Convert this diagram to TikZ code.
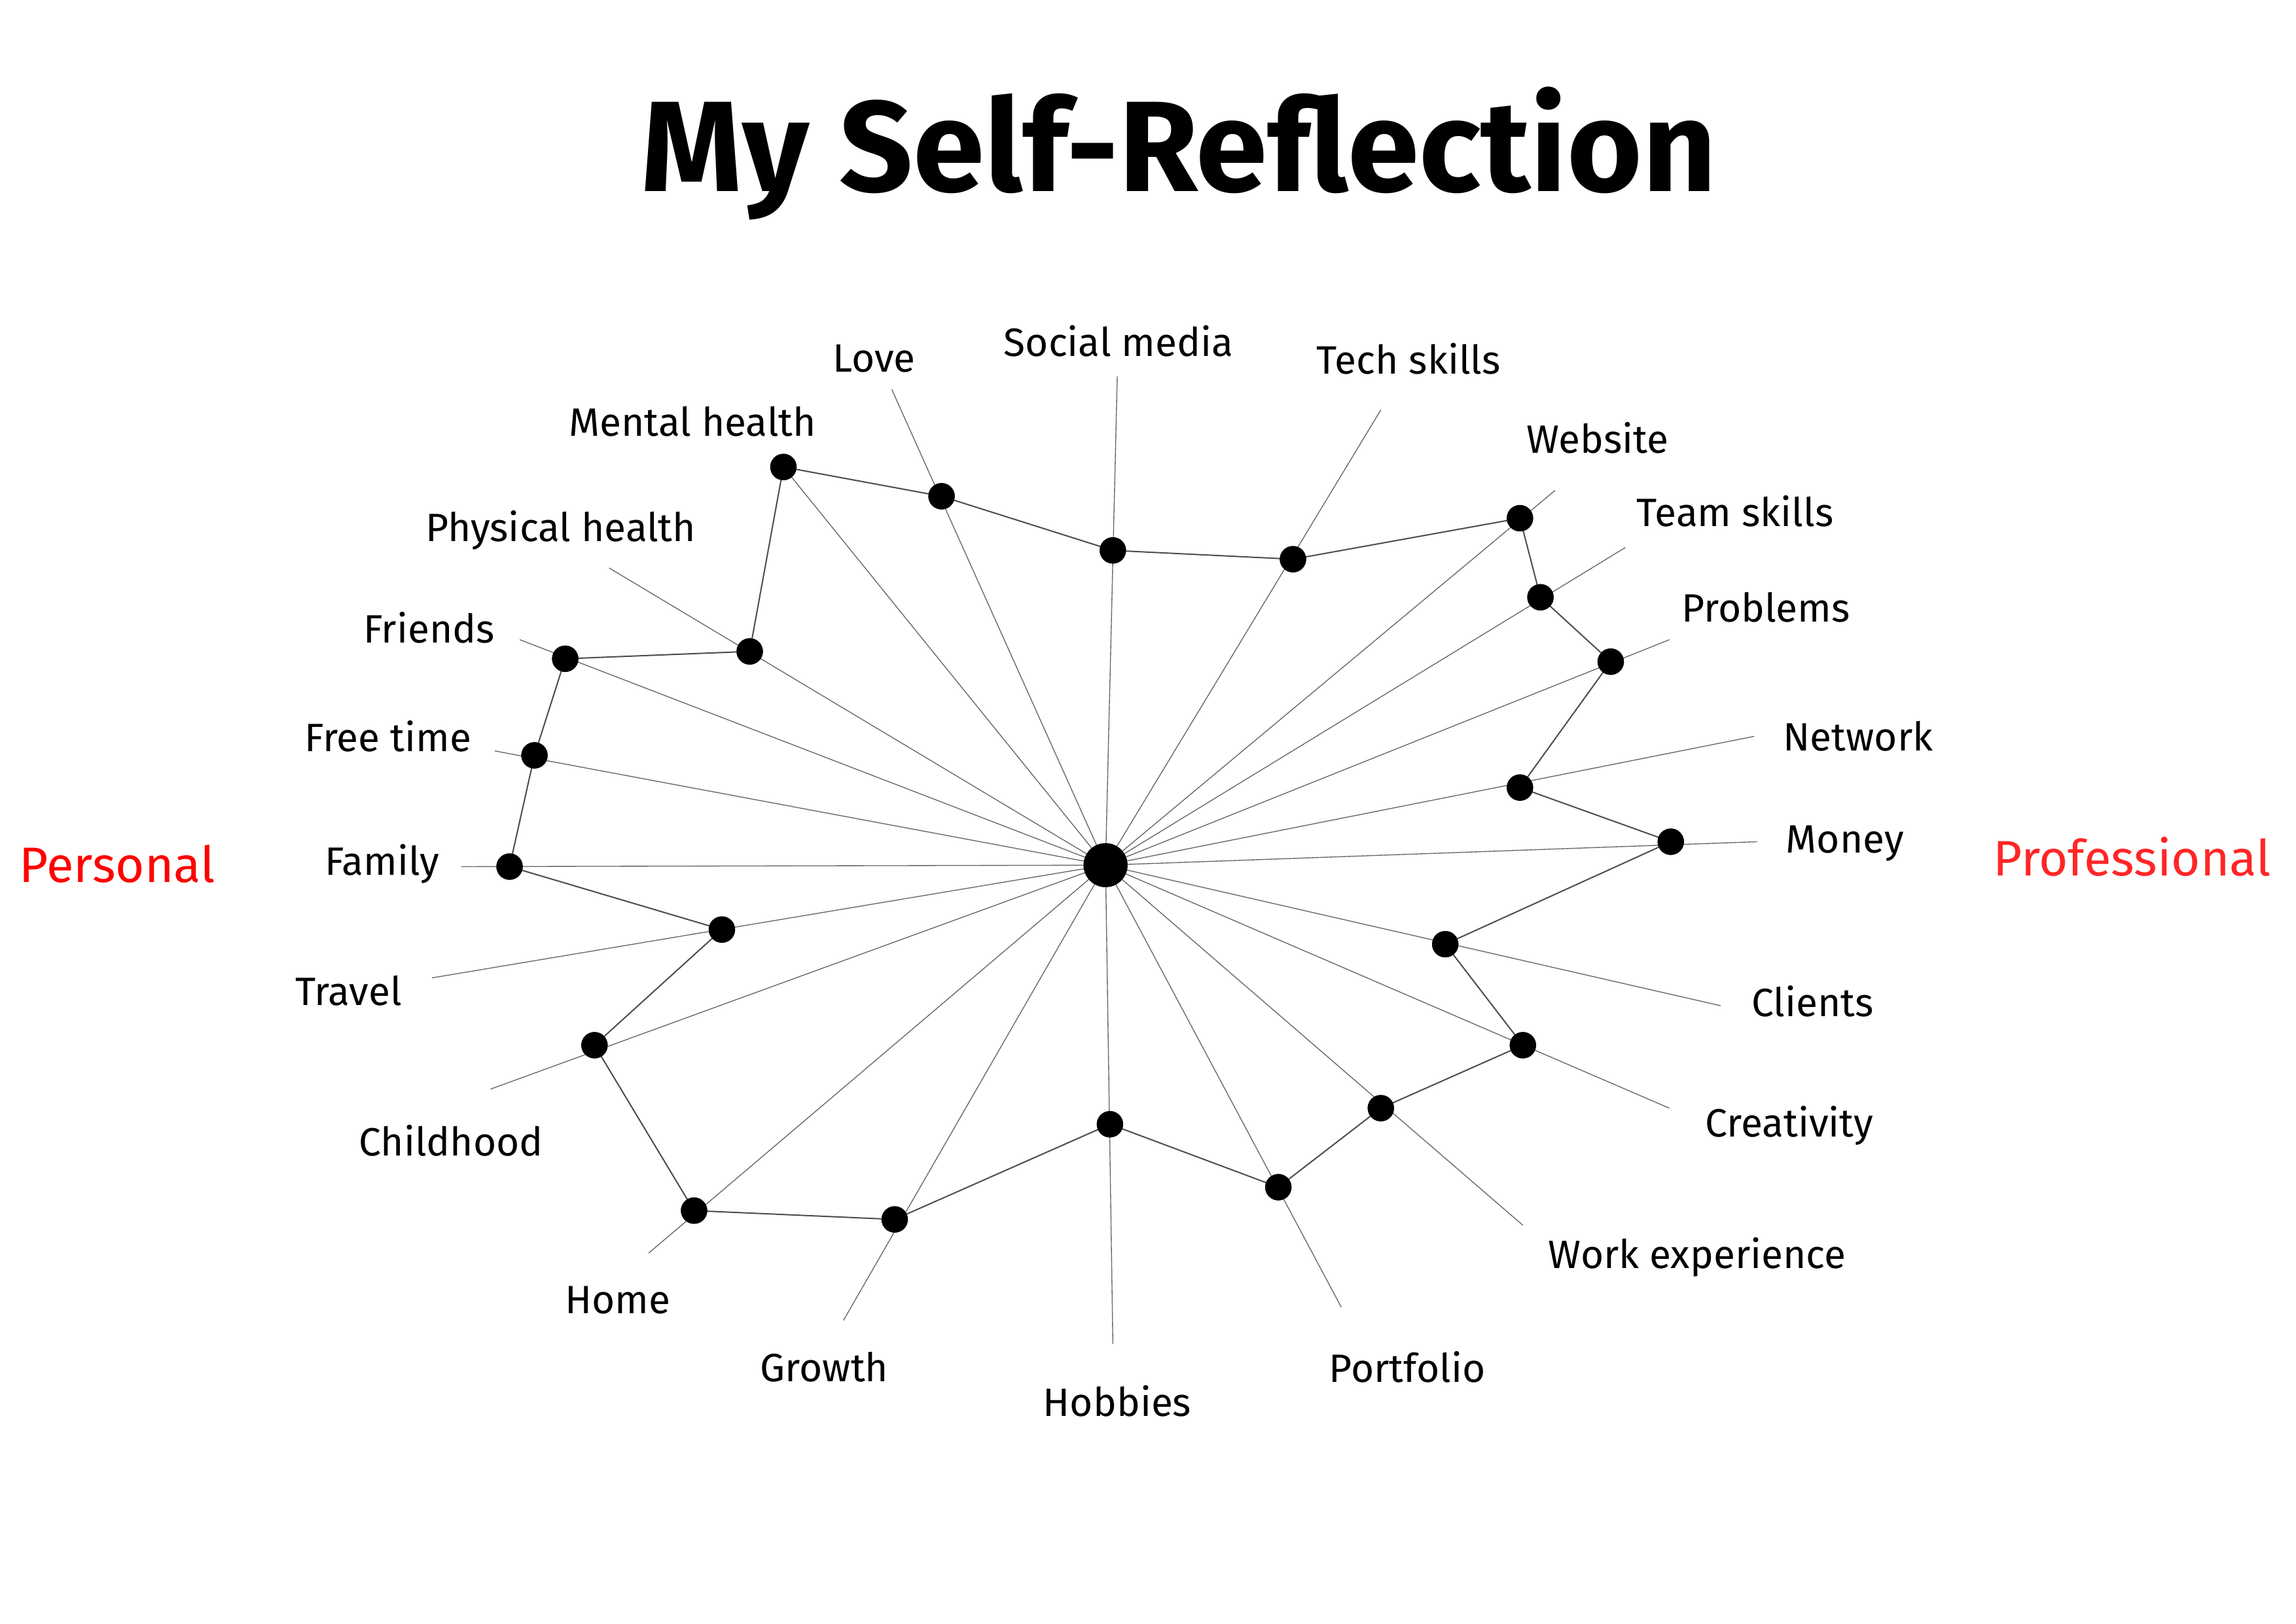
\documentclass[tikz,border=0pt]{standalone}
\usepackage{fontspec}
\setmainfont{Fira Sans}
\begin{document}
\begin{tikzpicture}[x=1pt,y=-1pt,
	dot/.style={circle,fill=black,inner sep=0pt,minimum size=18pt},
	spoke/.style={draw=black!60,line width=0.6pt},
	rim/.style={draw=black!70,line width=0.9pt},
	lbl/.style={font=\fontsize{27}{30}\selectfont\mdseries}]
\useasboundingbox (0,0) rectangle (1568,1109);
\node[font=\fontsize{88}{100}\selectfont\bfseries] (title) at (805,105) {My Self-Reflection};
\node[lbl,text=red,font=\fontsize{34}{38}\selectfont] (personal) at (80,590) {Personal};
\node[lbl,text=red!85,font=\fontsize{34}{38}\selectfont] (professional) at (1456,585) {Professional};
\node[dot,minimum size=30pt] (c) at (755,591) {};
% dots, spoke ends and labels
\foreach \n/\dx/\dy/\ex/\ey/\lx/\ly/\txt in {
	soc/760/376/763/257/764/233/Social media,
	tech/883/382/943/280/962/245/Tech skills,
	web/1038/354/1062/335/1091/299/Website,
	team/1052/408/1110/374/1185/349/Team skills,
	prob/1100/452/1140/437/1206/415/Problems,
	net/1038/538/1198/503/1269/503/Network,
	mon/1141/575/1200/575/1260/576/Money,
	cli/987/645/1175/687/1238/684/Clients,
	cre/1040/714/1140/757/1222/769/Creativity,
	work/943/757/1040/837/1159/859/Work experience,
	port/873/811/916/893/961/934/Portfolio,
	hob/758/768/760/918/763/957/Hobbies,
	gro/611/833/576/902/563/934/Growth,
	home/474/827/443/856/422/888/Home,
	child/406/714/335/744/308/779/Childhood,
	trav/493/635/295/668/238/677/Travel,
	fam/348/592/315/592/261/590/Family,
	free/365/516/338/513/265/503/Free time,
	fri/386/450/355/437/293/429/Friends,
	phys/512/445/416/388/383/362/Physical health,
	ment/535/319/535/319/473/288/Mental health,
	love/643/339/609/266/597/245/Love}{
	\coordinate (\n-e) at (\ex,\ey);
	\node[lbl] (\n-l) at (\lx,\ly) {\txt};
	\draw[spoke] (c.center) -- (\n-e);
	\node[dot] (\n) at (\dx,\dy) {};
}
% the ring
\draw[rim] (ment.center) -- (love.center) -- (soc.center) -- (tech.center) -- (web.center)
	-- (team.center) -- (prob.center) -- (net.center) -- (mon.center) -- (cli.center)
	-- (cre.center) -- (work.center) -- (port.center) -- (hob.center) -- (gro.center)
	-- (home.center) -- (child.center) -- (trav.center) -- (fam.center) -- (free.center)
	-- (fri.center) -- (phys.center) -- cycle;
\foreach \n in {soc,tech,web,team,prob,net,mon,cli,cre,work,port,hob,gro,home,child,trav,fam,free,fri,phys,ment,love}
	\node[dot] at (\n) {};
\node[dot,minimum size=30pt] at (c) {};
\end{tikzpicture}
\end{document}
